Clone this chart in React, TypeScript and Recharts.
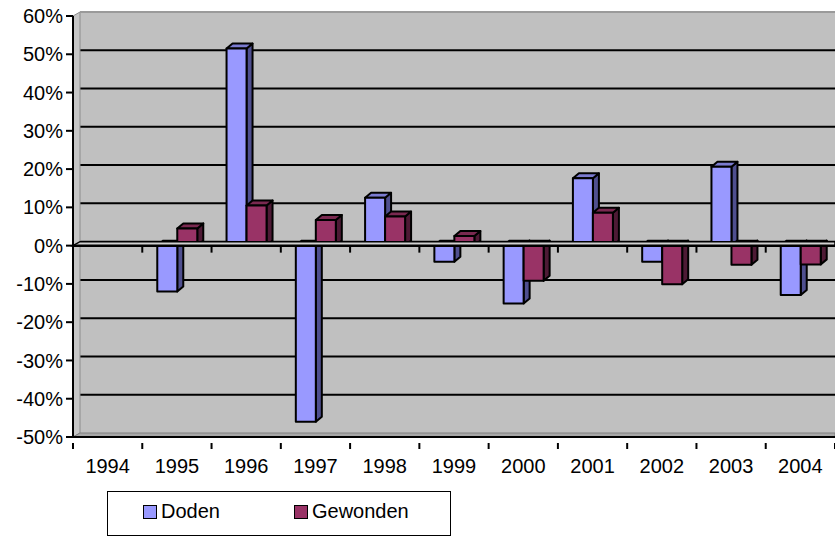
import React from 'react';
import { BarChart, Bar, XAxis, YAxis, ReferenceArea, ReferenceLine } from 'recharts';

const years = ['1994', '1995', '1996', '1997', '1998', '1999', '2000', '2001', '2002', '2003', '2004'];
const doden = [null, -0.12, 0.515, -0.46, 0.125, -0.042, -0.151, 0.176, -0.042, 0.206, -0.129];
const gewonden = [null, 0.045, 0.105, 0.067, 0.076, 0.025, -0.092, 0.086, -0.101, -0.05, -0.049];
const yTicks = [-0.5, -0.4, -0.3, -0.2, -0.1, 0, 0.1, 0.2, 0.3, 0.4, 0.5, 0.6];

const data = years.map((year, i) => ({ year, Doden: doden[i], Gewonden: gewonden[i] }));

const FONT = '"Liberation Sans", Arial, sans-serif';
const FONT_SIZE = 20;
const Y_MIN = yTicks[0];
const Y_MAX = yTicks[yTicks.length - 1];
// depth of the back wall and of the columns
const WALL_DX = 7;
const WALL_DY = 4;
const BAR_DX = 6;
const BAR_DY = 5;

const colors = {
    Doden: { front: '#9999FF', side: '#4F4F8F', top: '#7B7BD0' },
    Gewonden: { front: '#993366', side: '#4E1A35', top: '#7A2950' },
};

const pct = (v: number) => `${Math.round(v * 100)}%`;

// back wall with its gridlines, left wall and floor of the 3d box
const Walls = (props: any) => {
    const { x, y, width, height } = props;
    const b = y + height;
    const toY = (t: number) => y + ((Y_MAX - t) / (Y_MAX - Y_MIN)) * height;
    return (
        <g>
            <rect x={x + WALL_DX} y={y - WALL_DY} width={width - WALL_DX} height={height} fill="#C0C0C0" />
            {yTicks
                .filter((t) => t !== Y_MIN && t !== Y_MAX)
                .map((t) => (
                    <line
                        key={t}
                        x1={x + WALL_DX}
                        y1={toY(t) - WALL_DY}
                        x2={x + width}
                        y2={toY(t) - WALL_DY}
                        stroke="#000"
                        strokeWidth={2}
                    />
                ))}
            <polygon
                points={`${x},${y} ${x + WALL_DX},${y - WALL_DY} ${x + WALL_DX},${b - WALL_DY} ${x},${b}`}
                fill="#C6C6C6"
                stroke="#8C8C8C"
                strokeWidth={1}
            />
            <polygon
                points={`${x},${b} ${x + WALL_DX},${b - WALL_DY} ${x + width},${b - WALL_DY} ${x + width},${b}`}
                fill="#A8A8A8"
                stroke="#808080"
                strokeWidth={1}
            />
            <line x1={x + WALL_DX} y1={y - WALL_DY} x2={x + width} y2={y - WALL_DY} stroke="#9A9A9A" strokeWidth={2} />
        </g>
    );
};

// the plane at 0% with its small category ticks
const ZeroPlane = (props: any) => {
    const { x1, y1, x2 } = props;
    const band = (x2 - x1) / years.length;
    return (
        <g>
            <polygon
                points={`${x1},${y1} ${x1 + WALL_DX},${y1 - WALL_DY} ${x2},${y1 - WALL_DY} ${x2},${y1}`}
                fill="#D0D0D0"
                stroke="#000"
                strokeWidth={1.5}
            />
            <line x1={x1} y1={y1} x2={x2} y2={y1} stroke="#000" strokeWidth={2.5} />
            {years.map((yr, i) => (
                <line key={yr} x1={x1 + band * i} y1={y1} x2={x1 + band * i} y2={y1 + 7} stroke="#000" strokeWidth={2} />
            ))}
        </g>
    );
};

const makeColumn = (key: 'Doden' | 'Gewonden') => (props: any) => {
    const { x, y, width, height, payload } = props;
    const v = payload ? payload[key] : null;
    if (v == null || !height) return <g />;
    const c = colors[key];
    const top = Math.min(y, y + height);
    const bottom = Math.max(y, y + height);
    const r = x + width;
    return (
        <g stroke="#000" strokeWidth={2} strokeLinejoin="round">
            <polygon
                points={`${r},${top} ${r + BAR_DX},${top - BAR_DY} ${r + BAR_DX},${bottom - BAR_DY} ${r},${bottom}`}
                fill={c.side}
            />
            <polygon
                points={`${x},${top} ${x + BAR_DX},${top - BAR_DY} ${r + BAR_DX},${top - BAR_DY} ${r},${top}`}
                fill={v >= 0 ? c.top : '#111'}
            />
            <rect x={x} y={top} width={width} height={bottom - top} fill={c.front} />
        </g>
    );
};

const CategoryTick = (props: any) => {
    const { x, y, payload, index, width, visibleTicksCount } = props;
    const half = payload && payload.offset ? payload.offset : width / (visibleTicksCount || years.length) / 2;
    const axisY = y - 16;
    return (
        <g>
            <line x1={x - half} y1={axisY} x2={x - half} y2={axisY + 6} stroke="#000" strokeWidth={2} />
            {index === years.length - 1 && (
                <line x1={x + half} y1={axisY} x2={x + half} y2={axisY + 6} stroke="#000" strokeWidth={2} />
            )}
            <text x={x} y={y} dy="0.71em" textAnchor="middle" fontFamily={FONT} fontSize={FONT_SIZE} fill="#000">
                {payload.value}
            </text>
        </g>
    );
};

const LegendBox = () => (
    <div
        style={{
            position: 'absolute',
            left: 107,
            top: 491,
            width: 342,
            height: 43,
            border: '1.5px solid #000',
            background: '#fff',
            fontFamily: FONT,
            fontSize: FONT_SIZE,
        }}
    >
        {(['Doden', 'Gewonden'] as const).map((k, i) => (
            <div
                key={k}
                style={{ position: 'absolute', left: i === 0 ? 35 : 186, top: 8, display: 'flex', alignItems: 'center' }}
            >
                <span
                    style={{
                        display: 'inline-block',
                        width: 12,
                        height: 12,
                        background: colors[k].front,
                        border: '1.5px solid #000',
                        marginRight: 4,
                    }}
                />
                <span>{k}</span>
            </div>
        ))}
    </div>
);

const App: React.FC = () => {
    return (
        <div style={{ position: 'absolute', left: 0, top: 0, width: 835, height: 536, background: '#fff' }}>
            <BarChart
                width={835}
                height={536}
                data={data}
                margin={{ top: 16, right: 0, left: 0, bottom: 0 }}
                barGap={0}
                barSize={20}
            >
                <ReferenceArea y1={Y_MIN} y2={Y_MAX} shape={<Walls />} ifOverflow="visible" />
                <ReferenceLine y={0} shape={ZeroPlane} />
                <XAxis
                    dataKey="year"
                    height={99}
                    axisLine={{ stroke: '#000', strokeWidth: 2 }}
                    tickLine={false}
                    tick={<CategoryTick />}
                    tickMargin={16}
                    interval={0}
                />
                <YAxis
                    width={73}
                    domain={[Y_MIN, Y_MAX]}
                    ticks={yTicks}
                    tickFormatter={pct}
                    interval={0}
                    axisLine={{ stroke: '#000', strokeWidth: 2 }}
                    tickLine={{ stroke: '#000', strokeWidth: 2 }}
                    tickSize={7}
                    tickMargin={3}
                    tick={{ fontFamily: FONT, fontSize: FONT_SIZE, fill: '#000' }}
                />
                <Bar dataKey="Doden" fill="#9999FF" shape={makeColumn('Doden')} isAnimationActive={false} />
                <Bar dataKey="Gewonden" fill="#993366" shape={makeColumn('Gewonden')} isAnimationActive={false} />
            </BarChart>
            <LegendBox />
        </div>
    );
};

export default App;
